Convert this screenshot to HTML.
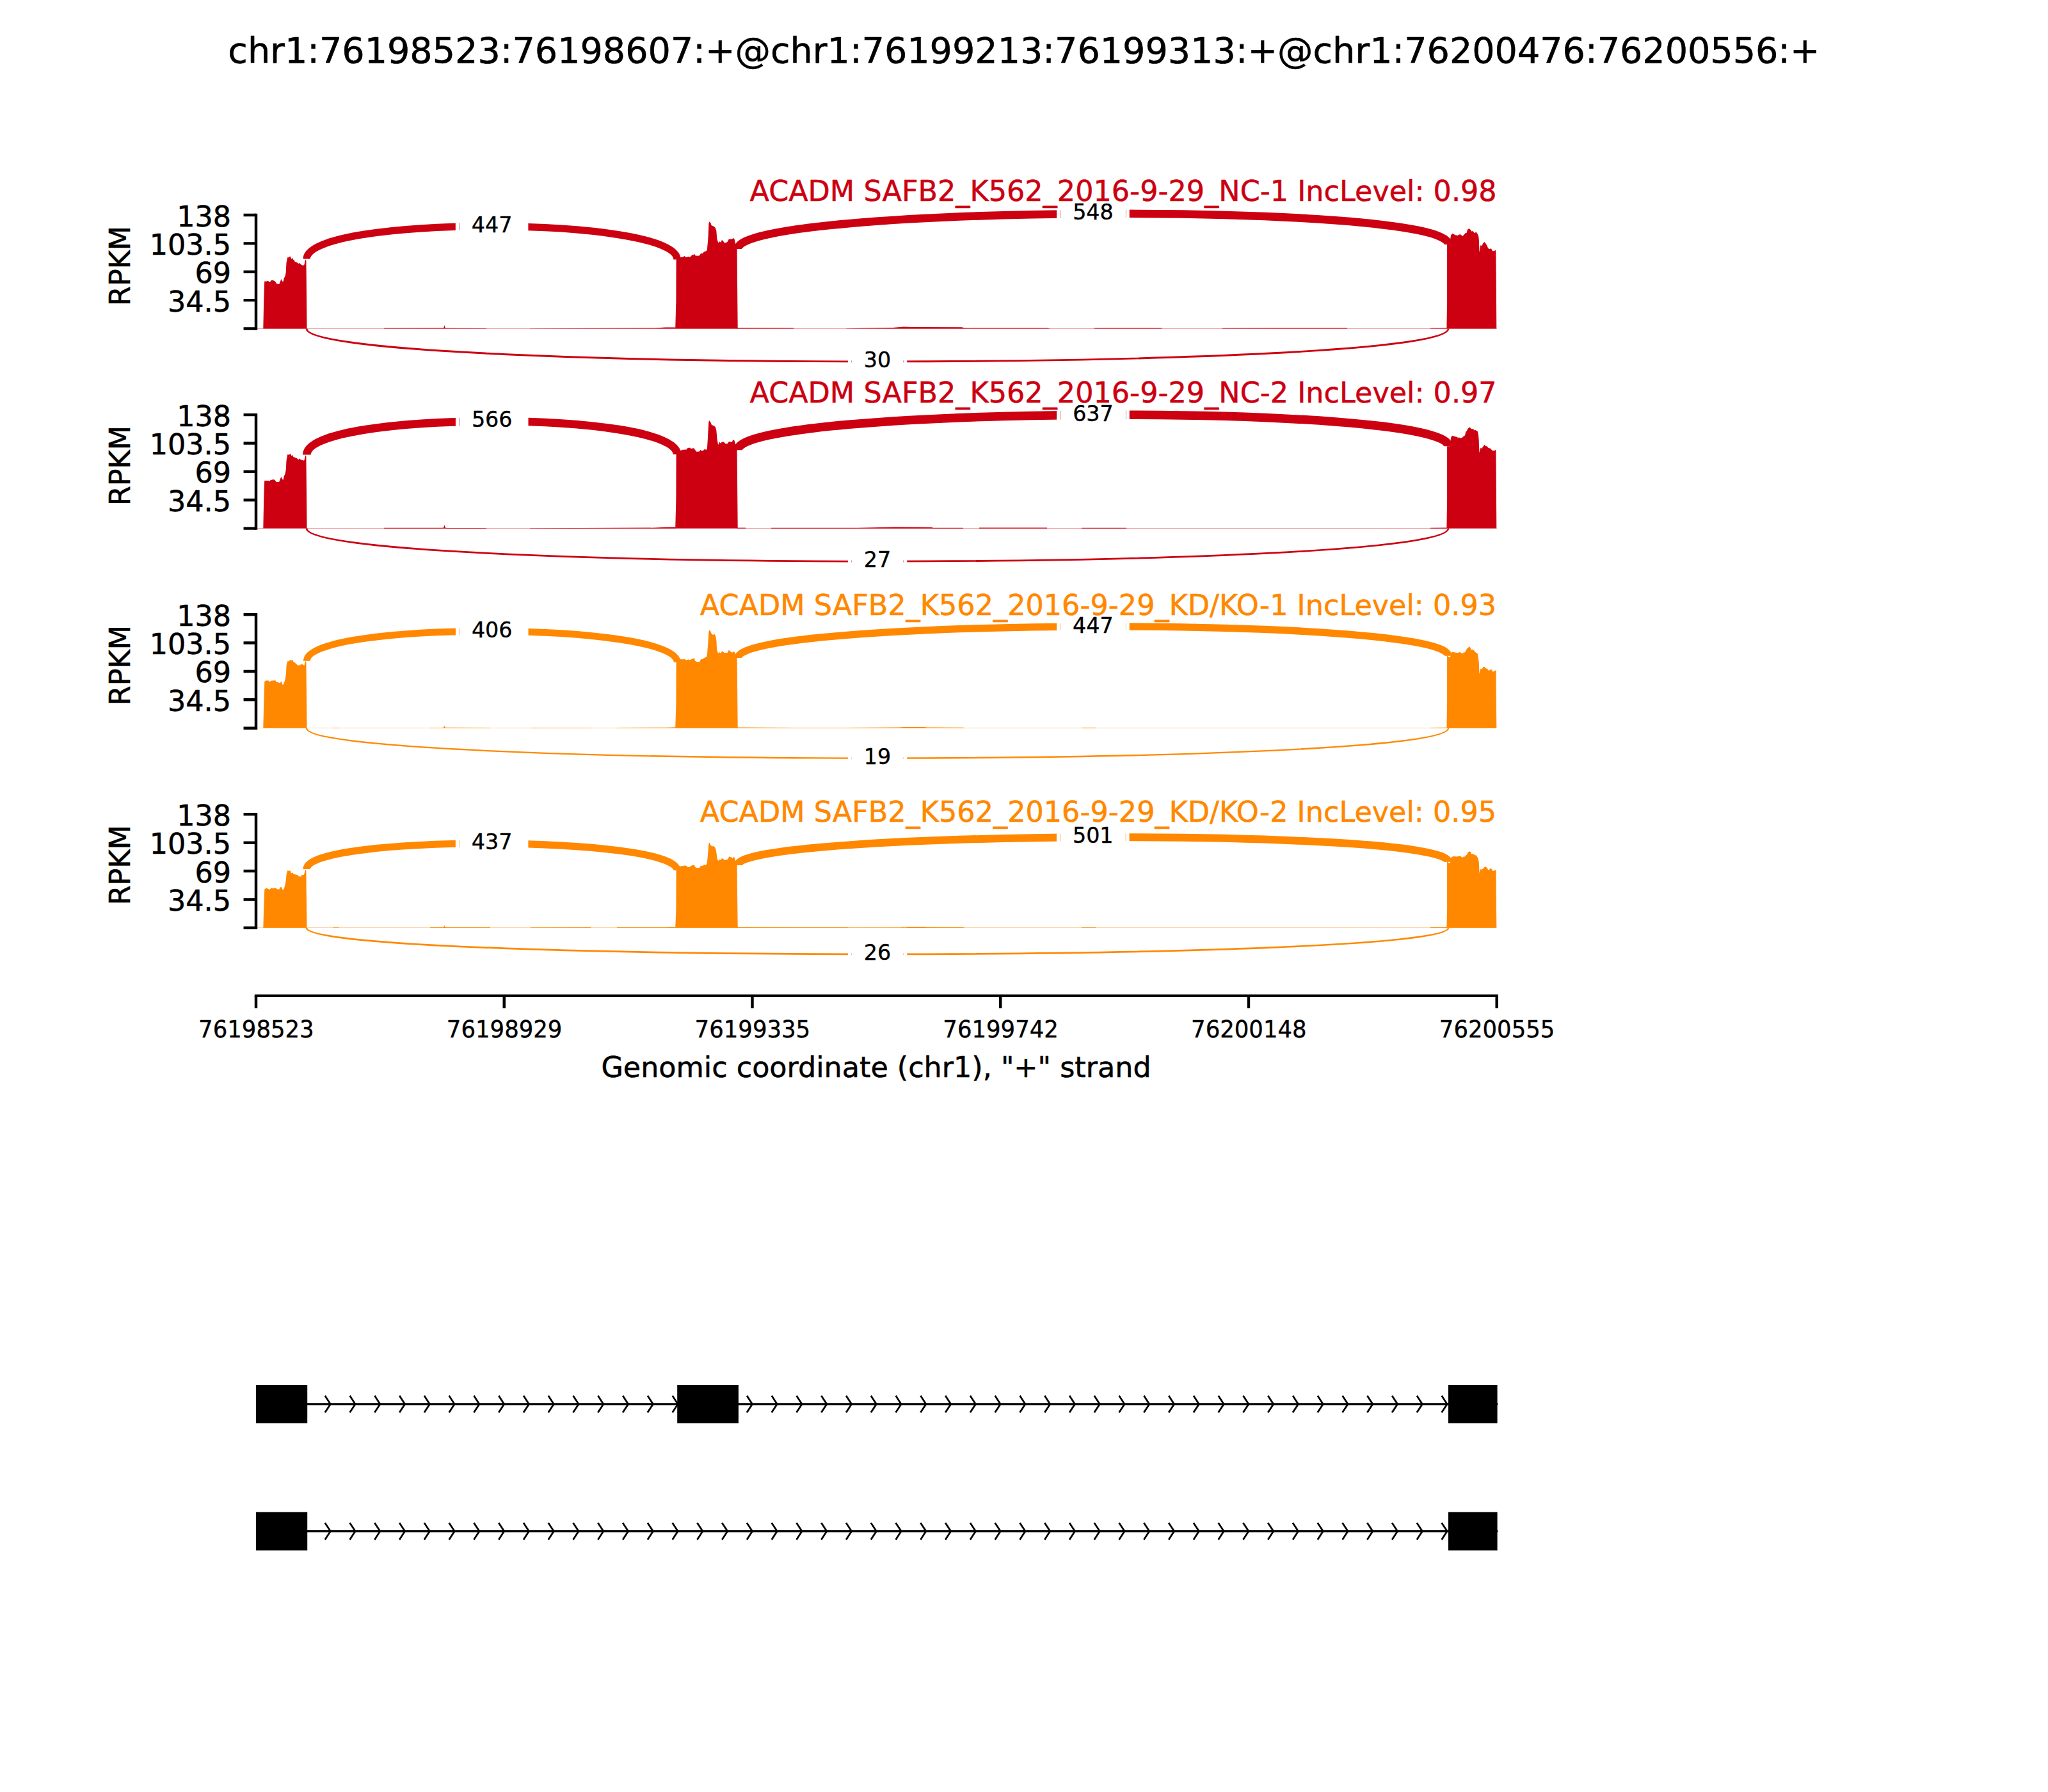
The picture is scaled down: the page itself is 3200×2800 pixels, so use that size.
<!DOCTYPE html>
<html lang="en"><head><meta charset="utf-8"><title>Sashimi plot chr1:76198523-76200556</title>
<style>html,body{margin:0;padding:0;background:#fff}svg{display:block}text{font-family:"DejaVu Sans","Liberation Sans",sans-serif;stroke:#000;stroke-width:0.55px;stroke-linejoin:round}text.s{stroke-width:0.4px}</style></head><body>
<svg width="3200" height="2800" viewBox="0 0 3200 2800">
<rect width="3200" height="2800" fill="#fff"/>
<text x="1600" y="98.4" font-size="55.56" text-anchor="middle">chr1:76198523:76198607:+@chr1:76199213:76199313:+@chr1:76200476:76200556:+</text>
<g>
<rect x="402" y="512.95" width="1936.7" height="0.7" fill="#CC0011" opacity="0.55"/>
<path d="M600,513.6 L600,512.7 690,512.6 693.2,512.5 694.4,507.9 695.6,512.5 699,512.8 760,512.9 760,513.6 Z" fill="#CC0011"/>
<path d="M828,513.6 L828,513.2 1024,512.5 1040,511.6 1055.5,511.5 1055.5,513.6 Z" fill="#CC0011"/>
<path d="M1152,513.6 L1152,512.3 1240,512.5 1240,513.6 Z" fill="#CC0011"/>
<path d="M1322,513.6 L1322,513.2 1345,512.7 1395,512 1412,510.5 1425,510.9 1503,511.3 1507,512.6 1636,512.6 1640,513.2 1640,513.6 Z" fill="#CC0011"/>
<path d="M1710,513.6 L1710,512.6 1815,512.6 1815,513.6 Z" fill="#CC0011"/>
<path d="M1910,513.6 L1910,512.7 1990,512.4 2105,512.5 2105,513.6 Z" fill="#CC0011"/>
<path d="M2235,513.6 L2235,512.7 2261,512.4 2261,513.6 Z" fill="#CC0011"/>
<path d="M411.3,513.5 L412.2,470 413.2,439.4 415.9,439.7 418.7,438.7 421.6,440.9 423.8,438.1 426.7,437.9 429.8,439.4 432.4,443.5 436.2,444.1 437.5,440.9 439.4,435.9 441.3,439.7 442.7,439.7 443.8,434.6 445.4,432.1 446.7,425.7 447.5,410.5 449.2,402.2 451.4,402.2 453.4,400.3 455.2,404.4 457.4,403.2 458.4,406.3 459.5,405.4 460.3,408.6 464.1,410.2 466.7,412.1 468.2,411.1 470.5,413.6 473.6,414.9 475.5,413.6 476.5,408.6 477.4,405.4 478.4,407.3 478.7,430 479.5,513.5 Z" fill="#CC0011"/>
<path d="M1055.2,513.5 L1056.4,470 1056.6,405.5 1060,404 1063.2,402 1066.7,401.7 1069.5,400.1 1071.7,402 1075.5,401.1 1078.1,401.7 1081.6,398.2 1083.8,398.2 1084.9,396.6 1086.3,399.2 1089.2,399.8 1092.7,399.5 1095.4,395.4 1097.1,396.6 1100.3,393.2 1102.5,392.8 1104.7,390.9 1105.7,380.8 1106.7,368.1 1107.4,349 1108.4,346.2 1110.5,348.4 1111.7,352.2 1114.6,353.2 1117.8,356 1119.3,360.5 1120.3,373.2 1122.2,379.2 1124.7,377.3 1126.3,378.9 1127.9,375.1 1129.5,376 1132,379.5 1134.6,379.2 1137.1,377.3 1138.7,373.8 1144.1,373.5 1145.4,371.8 1147.6,373.8 1148.9,379.5 1149.2,380.8 1151.6,388.9 1151.9,430 1152.7,513.5 Z" fill="#CC0011"/>
<path d="M2260.4,513.5 L2261.1,470 2261.1,381.9 2265.9,381.9 2266.2,373 2267.1,367.3 2269.7,364.8 2273.8,367.2 2277.3,367.9 2281.4,365.9 2285.5,369.1 2287.4,366.7 2289.4,364.4 2291.6,363.8 2293.2,358.4 2295.4,357 2297.3,358.4 2299.2,361.6 2301.4,360.9 2304.3,364.4 2306.2,362.3 2308.7,365.4 2310.3,369.8 2310.9,375.5 2311.4,394.6 2313.2,383.2 2315.4,384.1 2317.3,380.3 2319.4,378.1 2321.4,380.6 2323.3,383.2 2325.2,387.9 2327.4,388.9 2330,388.2 2332.2,392.4 2335.7,391.7 2337.3,390.5 2337.7,430 2338.3,513.5 Z" fill="#CC0011"/>
<path d="M479.1,404.6 C479.1,336.07 1058.1,336.97 1058.1,405.5" fill="none" stroke="#CC0011" stroke-width="11.31"/>
<path d="M1152.8,388.9 C1152.8,320.37 2263.1,313.37 2263.1,381.9" fill="none" stroke="#CC0011" stroke-width="12.52"/>
<path d="M479,513.5 C479,582.03 2263.1,582.03 2263.1,513.5" fill="none" stroke="#CC0011" stroke-width="2.93"/>
<rect x="711.81" y="312.55" width="5.32" height="82.3" fill="#fff"/><rect x="717.59" y="312.55" width="107.8" height="82.3" fill="#fff"/>
<rect x="1651.16" y="292.9" width="5.33" height="82.3" fill="#fff"/><rect x="1656.94" y="292.9" width="102.02" height="82.3" fill="#fff"/><rect x="1759.41" y="292.9" width="5.33" height="82.3" fill="#fff"/>
<rect x="1324.87" y="523.8" width="5.33" height="82.3" fill="#fff"/><rect x="1330.64" y="523.8" width="80.82" height="82.3" fill="#fff"/><rect x="1411.91" y="523.8" width="5.33" height="82.3" fill="#fff"/>
<text x="768.6" y="362.85" font-size="33.33" class="s" text-anchor="middle">447</text>
<text x="1707.95" y="343.2" font-size="33.33" class="s" text-anchor="middle">548</text>
<text x="1371.05" y="574.1" font-size="33.33" class="s" text-anchor="middle">30</text>
<path d="M380.56,336 H400 M380.56,380.38 H400 M380.56,424.75 H400 M380.56,469.12 H400 M380.56,513.5 H400" stroke="#000" stroke-width="4.44" fill="none"/>
<path d="M400,336 V513.5" stroke="#000" stroke-width="4.44" stroke-linecap="square" fill="none"/>
<text x="361" y="353.5" font-size="44.44" text-anchor="end">138</text>
<text x="361" y="397.88" font-size="44.44" text-anchor="end">103.5</text>
<text x="361" y="442.25" font-size="44.44" text-anchor="end">69</text>
<text x="361" y="486.62" font-size="44.44" text-anchor="end">34.5</text>
<text transform="translate(203,415.4) rotate(-90)" font-size="44.44" text-anchor="middle">RPKM</text>
<text x="2338.7" y="314.4" font-size="44.44" letter-spacing="0.03" text-anchor="end" fill="#CC0011" style="stroke:#CC0011">ACADM SAFB2_K562_2016-9-29_NC-1 IncLevel: 0.98</text>
</g>
<g>
<rect x="402" y="825.05" width="1936.7" height="0.7" fill="#CC0011" opacity="0.55"/>
<path d="M600,825.7 L600,824.8 690,824.7 693.2,824.6 694.4,820 695.6,824.6 699,824.9 760,825 760,825.7 Z" fill="#CC0011"/>
<path d="M828,825.7 L828,825.3 1024,824.6 1040,823.7 1055.5,823.6 1055.5,825.7 Z" fill="#CC0011"/>
<path d="M1152,825.7 L1152,824.6 1165,824.6 1165,825.7 Z" fill="#CC0011"/>
<path d="M1205,825.7 L1205,824.8 1340,824.7 1400,823.6 1440,823.7 1456,824.1 1458,824.7 1505,824.7 1505,825.7 Z" fill="#CC0011"/>
<path d="M1530,825.7 L1530,824.6 1636,824.6 1636,825.7 Z" fill="#CC0011"/>
<path d="M1690,825.7 L1690,824.8 1760,824.8 1760,825.7 Z" fill="#CC0011"/>
<path d="M2235,825.7 L2235,824.8 2261,824.5 2261,825.7 Z" fill="#CC0011"/>
<path d="M411.3,825.6 L412.2,780 413.2,750.9 415.9,751.1 420.6,751.3 421.6,752.1 422.9,749.4 424.8,750 426.7,749 429.2,749.7 431.7,753 436.2,753 437.5,749 439.4,745.1 441.3,749 442.5,749.7 443.8,744 445.4,740.8 446.7,734.4 447.5,719.8 449.2,710.3 452,710.6 453.6,708.4 455.2,711.9 457.4,711.3 458.4,714 461.3,715.1 463.5,715.7 466.3,718.2 468.4,716.2 470.5,719.3 471.4,718.2 473.9,719.8 475.5,718.9 476.5,714.8 477.4,711.3 478.4,713.2 478.7,740 479.5,825.6 Z" fill="#CC0011"/>
<path d="M1055.2,825.6 L1056.4,780 1056.6,710.1 1060,707 1063.2,704 1066.7,702.8 1072.4,702.5 1074.6,700 1078.1,699.4 1079.4,700.9 1084.4,700.3 1085.7,702.5 1088.2,705.7 1092.7,705.4 1094.5,702.8 1096.2,704.6 1099,704.1 1100.6,701.9 1103.8,702.8 1104.9,700.9 1105.7,688.2 1107.3,659 1108.4,657.3 1110.5,660 1112,664.1 1114.9,665.1 1117.8,667.3 1119.3,672.4 1120.6,687 1122.2,694.9 1124.4,690.5 1126,692.7 1127.9,690.5 1130.8,690.5 1133.9,693.6 1137.1,693 1138.7,690.1 1143.8,690.8 1145.4,687.1 1147.3,687.9 1148.9,692.7 1149.2,694.6 1151.6,703.2 1151.9,740 1152.7,825.6 Z" fill="#CC0011"/>
<path d="M2260.4,825.6 L2261.1,780 2261.1,697.3 2266.2,697.3 2266.5,688.1 2267.5,682.4 2269.4,680.8 2273.2,682.1 2277,683 2278.6,684.8 2279.5,683 2281.7,684.8 2285.5,683.3 2287.4,681 2289,680.5 2290.3,674.4 2291.9,673.5 2293.5,669.7 2296.6,667.6 2298.9,670.2 2301.4,670 2303.9,672.5 2305.5,671.9 2308.7,674.1 2309.9,678.6 2310.7,688.1 2311.4,707.8 2313.2,700.1 2315.1,700.8 2317.6,697.6 2319.5,694.7 2321.4,697 2323.3,697.3 2325.8,700.1 2328.4,700.5 2332.2,704.3 2335.4,704 2337.4,702.4 2337.7,740 2338.3,825.6 Z" fill="#CC0011"/>
<path d="M479.3,710.4 C479.3,641.07 1058.1,640.77 1058.1,710.1" fill="none" stroke="#CC0011" stroke-width="12.73"/>
<path d="M1152.8,703.2 C1152.8,633.87 2263.1,627.97 2263.1,697.3" fill="none" stroke="#CC0011" stroke-width="13.5"/>
<path d="M479,825.6 C479,894.27 2263.1,894.27 2263.1,825.6" fill="none" stroke="#CC0011" stroke-width="2.78"/>
<rect x="711.91" y="617.15" width="5.32" height="82.3" fill="#fff"/><rect x="717.69" y="617.15" width="107.8" height="82.3" fill="#fff"/>
<rect x="1651.16" y="608.1" width="5.33" height="82.3" fill="#fff"/><rect x="1656.94" y="608.1" width="102.02" height="82.3" fill="#fff"/><rect x="1759.41" y="608.1" width="5.33" height="82.3" fill="#fff"/>
<rect x="1324.87" y="836" width="5.33" height="82.3" fill="#fff"/><rect x="1330.64" y="836" width="80.82" height="82.3" fill="#fff"/><rect x="1411.91" y="836" width="5.33" height="82.3" fill="#fff"/>
<text x="768.7" y="667.45" font-size="33.33" class="s" text-anchor="middle">566</text>
<text x="1707.95" y="658.4" font-size="33.33" class="s" text-anchor="middle">637</text>
<text x="1371.05" y="886.3" font-size="33.33" class="s" text-anchor="middle">27</text>
<path d="M380.56,648.1 H400 M380.56,692.48 H400 M380.56,736.85 H400 M380.56,781.23 H400 M380.56,825.6 H400" stroke="#000" stroke-width="4.44" fill="none"/>
<path d="M400,648.1 V825.6" stroke="#000" stroke-width="4.44" stroke-linecap="square" fill="none"/>
<text x="361" y="665.6" font-size="44.44" text-anchor="end">138</text>
<text x="361" y="709.98" font-size="44.44" text-anchor="end">103.5</text>
<text x="361" y="754.35" font-size="44.44" text-anchor="end">69</text>
<text x="361" y="798.73" font-size="44.44" text-anchor="end">34.5</text>
<text transform="translate(203,727.5) rotate(-90)" font-size="44.44" text-anchor="middle">RPKM</text>
<text x="2338.7" y="629.2" font-size="44.44" letter-spacing="0.03" text-anchor="end" fill="#CC0011" style="stroke:#CC0011">ACADM SAFB2_K562_2016-9-29_NC-2 IncLevel: 0.97</text>
</g>
<g>
<rect x="402" y="1137.15" width="1936.7" height="0.7" fill="#FF8800" opacity="0.55"/>
<path d="M520,1137.8 L520,1137.1 530,1137.1 530,1137.8 Z" fill="#FF8800"/>
<path d="M672,1137.8 L672,1137 690,1136.9 693.2,1136.8 694.4,1133.7 695.6,1136.8 766,1137 766,1137.8 Z" fill="#FF8800"/>
<path d="M829,1137.8 L829,1137.1 923,1137 923,1137.8 Z" fill="#FF8800"/>
<path d="M964,1137.8 L964,1137 1040,1136.8 1050,1136.4 1055.5,1136.3 1055.5,1137.8 Z" fill="#FF8800"/>
<path d="M1152,1137.8 L1152,1136.5 1240,1136.9 1322,1136.9 1405,1136.6 1412,1135.9 1445,1135.9 1448,1136.5 1505,1136.7 1507,1137.3 1507,1137.8 Z" fill="#FF8800"/>
<path d="M1690,1137.8 L1690,1136.9 1712,1136.9 1712,1137.8 Z" fill="#FF8800"/>
<path d="M2235,1137.8 L2235,1137 2261,1136.7 2261,1137.8 Z" fill="#FF8800"/>
<path d="M411.3,1137.7 L412.2,1100 413.3,1064.7 416.5,1063.2 419.7,1063.5 421.3,1065.4 423.5,1063.7 427.9,1063.2 430.5,1063.2 431.7,1065.4 434.3,1066 436.8,1067.3 438.1,1066.6 439.4,1064.2 441.3,1069.8 442.7,1069.8 444.4,1065.4 446,1059.7 447,1050.8 447.6,1039.4 449.2,1033.3 450.8,1033.3 453.6,1031.1 455.9,1032.1 457.4,1031.1 458.4,1034.3 459.7,1034.6 463.5,1038.1 466.3,1040 468.9,1038.7 470.5,1038.4 471.4,1037.1 473,1038.4 475.5,1039.7 476.5,1035.5 477.4,1033 478.4,1034.6 478.7,1060 479.5,1137.7 Z" fill="#FF8800"/>
<path d="M1055.2,1137.7 L1056.4,1100 1056.6,1034.7 1060,1032 1062.2,1030 1066.7,1030.3 1069.8,1030 1072.4,1031.4 1076.2,1030.3 1077.8,1031.4 1081.9,1029.3 1083.8,1029 1084.9,1027.9 1086,1032.8 1088.9,1034.1 1092.7,1034.6 1095.4,1029.7 1097.1,1030.3 1100.3,1028.1 1104.1,1026.5 1105.1,1020.8 1106.3,1005.5 1107.4,987.8 1108.4,984.6 1110.5,986.8 1111.7,990 1114,991.9 1116.5,990.8 1118.4,994.8 1119.5,1001.7 1120.1,1015.7 1122.2,1020.8 1124.4,1018.9 1126.3,1020.8 1128.2,1017.3 1132,1020.1 1136.5,1020.1 1138.7,1015.8 1140.9,1017.6 1144.1,1019.8 1145.7,1018.2 1147.6,1018.4 1148.9,1021.5 1151.6,1028.1 1151.9,1060 1152.7,1137.7 Z" fill="#FF8800"/>
<path d="M2260.4,1137.7 L2261.1,1100 2261.1,1024.8 2262.5,1024.8 2263.5,1027 2266,1027 2267.5,1020 2269.4,1018.6 2274.4,1019.7 2278.2,1020 2280.5,1019 2284,1020.3 2285.7,1021.6 2287.4,1018.6 2288.7,1019.7 2290.3,1016.8 2292.5,1013 2296.5,1010.3 2299.2,1015.5 2301.1,1014.8 2303.6,1016.8 2305.2,1019 2308.7,1021.3 2310.1,1030.1 2310.9,1037.1 2311.4,1053.6 2313.2,1044.7 2315.4,1045.4 2317.6,1042.2 2319.5,1041.4 2320.8,1044.1 2323.6,1044.7 2326.5,1048.2 2328.7,1046.1 2330.6,1046.3 2332.5,1049.8 2335.4,1048.2 2337.6,1047 2337.7,1080 2338.3,1137.7 Z" fill="#FF8800"/>
<path d="M479.25,1032.7 C479.25,969.5 1058.2,971.5 1058.2,1034.7" fill="none" stroke="#FF8800" stroke-width="10.78"/>
<path d="M1152.95,1028.1 C1152.95,964.9 2262.9,961.6 2262.9,1024.8" fill="none" stroke="#FF8800" stroke-width="11.31"/>
<path d="M479,1137.7 C479,1200.23 2263.1,1200.23 2263.1,1137.7" fill="none" stroke="#FF8800" stroke-width="2.33"/>
<rect x="711.94" y="945.2" width="5.32" height="82.3" fill="#fff"/><rect x="717.71" y="945.2" width="107.8" height="82.3" fill="#fff"/>
<rect x="1651.14" y="939.15" width="5.33" height="82.3" fill="#fff"/><rect x="1656.91" y="939.15" width="102.02" height="82.3" fill="#fff"/><rect x="1759.39" y="939.15" width="5.33" height="82.3" fill="#fff"/>
<rect x="1324.87" y="1144" width="5.33" height="82.3" fill="#fff"/><rect x="1330.64" y="1144" width="80.82" height="82.3" fill="#fff"/><rect x="1411.91" y="1144" width="5.33" height="82.3" fill="#fff"/>
<text x="768.73" y="995.5" font-size="33.33" class="s" text-anchor="middle">406</text>
<text x="1707.93" y="989.45" font-size="33.33" class="s" text-anchor="middle">447</text>
<text x="1371.05" y="1194.3" font-size="33.33" class="s" text-anchor="middle">19</text>
<path d="M380.56,960.2 H400 M380.56,1004.58 H400 M380.56,1048.95 H400 M380.56,1093.33 H400 M380.56,1137.7 H400" stroke="#000" stroke-width="4.44" fill="none"/>
<path d="M400,960.2 V1137.7" stroke="#000" stroke-width="4.44" stroke-linecap="square" fill="none"/>
<text x="361" y="977.7" font-size="44.44" text-anchor="end">138</text>
<text x="361" y="1022.08" font-size="44.44" text-anchor="end">103.5</text>
<text x="361" y="1066.45" font-size="44.44" text-anchor="end">69</text>
<text x="361" y="1110.83" font-size="44.44" text-anchor="end">34.5</text>
<text transform="translate(203,1039.6) rotate(-90)" font-size="44.44" text-anchor="middle">RPKM</text>
<text x="2338.1" y="961.3" font-size="44.44" letter-spacing="0.03" text-anchor="end" fill="#FF8800" style="stroke:#FF8800">ACADM SAFB2_K562_2016-9-29_KD/KO-1 IncLevel: 0.93</text>
</g>
<g>
<rect x="402" y="1449.25" width="1936.7" height="0.7" fill="#FF8800" opacity="0.55"/>
<path d="M520,1449.9 L520,1449.2 530,1449.2 530,1449.9 Z" fill="#FF8800"/>
<path d="M672,1449.9 L672,1449.1 690,1449 693.2,1448.9 694.4,1445.8 695.6,1448.9 766,1449.1 766,1449.9 Z" fill="#FF8800"/>
<path d="M829,1449.9 L829,1449.2 923,1449.1 923,1449.9 Z" fill="#FF8800"/>
<path d="M964,1449.9 L964,1449.1 1040,1448.9 1050,1448.5 1055.5,1448.4 1055.5,1449.9 Z" fill="#FF8800"/>
<path d="M1152,1449.9 L1152,1448.8 1240,1449.1 1322,1449.1 1405,1448.8 1412,1448.3 1445,1448.3 1448,1448.8 1505,1448.9 1507,1449.4 1507,1449.9 Z" fill="#FF8800"/>
<path d="M1690,1449.9 L1690,1449.1 1712,1449.1 1712,1449.9 Z" fill="#FF8800"/>
<path d="M2235,1449.9 L2235,1449.1 2261,1448.8 2261,1449.9 Z" fill="#FF8800"/>
<path d="M411.3,1449.8 L412.2,1420 413.3,1389.5 416.5,1387.6 419,1388.9 421.3,1390.1 423.8,1387.4 427.3,1388.2 430.5,1387.3 433,1389.5 436.5,1389.5 437.5,1386.6 439.7,1386 441.3,1389.8 442.5,1390.8 444.4,1386.6 446,1380.3 447,1374 447.6,1365.7 449.4,1360.1 451.4,1360.9 453.4,1359.9 455.2,1364.4 457.4,1363.3 458.4,1365.8 464.7,1367 467,1369.8 468.6,1369 470.5,1370 471.4,1367.1 474.9,1367 476.5,1361.3 477.4,1358.8 478.4,1361.3 478.7,1390 479.5,1449.8 Z" fill="#FF8800"/>
<path d="M1055.2,1449.8 L1056.4,1420 1056.6,1360.1 1060,1357 1062.2,1354.1 1064.1,1353.2 1067.9,1353.2 1069.5,1352.2 1073,1353.2 1074.6,1354.7 1077.5,1354.4 1081.6,1351.9 1084.8,1351.3 1086,1354.7 1089.2,1356.3 1092.7,1355.9 1095.4,1352.1 1096.8,1353.5 1100.6,1351.1 1102.8,1351.9 1104.7,1349 1105.7,1339.5 1107.3,1318.6 1108.4,1316.2 1109.8,1319.8 1112.4,1322.4 1114.9,1322.1 1117.1,1324 1118.7,1328.1 1119.7,1334.4 1120.3,1340.8 1122.2,1344.9 1124.7,1342.7 1126.3,1344 1128.2,1340.7 1132.4,1344 1137.1,1342.7 1139.3,1338.2 1143.5,1340.1 1144.4,1341.4 1145.7,1339 1147.6,1340.1 1149.2,1345.2 1151.6,1351.9 1151.9,1390 1152.7,1449.8 Z" fill="#FF8800"/>
<path d="M2260.4,1449.8 L2261.1,1420 2261.1,1346.8 2262.5,1346.8 2263.5,1348.5 2266,1348.2 2267.1,1340 2270.6,1338 2277,1338.4 2280.5,1337.3 2284,1339 2285.5,1340.1 2287.4,1338.1 2288.7,1338.7 2290.3,1336.2 2291.9,1335.9 2293.8,1331.4 2296.5,1330.2 2298.2,1331.7 2299.2,1334.6 2302.4,1334.2 2304.3,1336.3 2306.2,1336.2 2308.7,1339.4 2310.3,1344.4 2311.1,1350.8 2311.4,1364.1 2313.2,1358.1 2315.4,1358.7 2317.9,1356.5 2320.5,1354.1 2323.3,1355.7 2325.2,1359 2326.8,1359.4 2328.1,1356.8 2330.6,1357.4 2332.5,1360.9 2335.4,1360 2337.6,1359 2337.7,1390 2338.3,1449.8 Z" fill="#FF8800"/>
<path d="M479,1358 C479,1303.33 1058.2,1305.43 1058.2,1360.1" fill="none" stroke="#FF8800" stroke-width="11.18"/>
<path d="M1152.6,1351.9 C1152.6,1297.23 2262.9,1292.13 2262.9,1346.8" fill="none" stroke="#FF8800" stroke-width="11.97"/>
<path d="M479,1449.8 C479,1504.47 2263.1,1504.47 2263.1,1449.8" fill="none" stroke="#FF8800" stroke-width="2.73"/>
<rect x="711.81" y="1276.95" width="5.32" height="82.3" fill="#fff"/><rect x="717.59" y="1276.95" width="107.8" height="82.3" fill="#fff"/>
<rect x="1650.96" y="1266.85" width="5.33" height="82.3" fill="#fff"/><rect x="1656.74" y="1266.85" width="102.02" height="82.3" fill="#fff"/><rect x="1759.21" y="1266.85" width="5.33" height="82.3" fill="#fff"/>
<rect x="1324.87" y="1449.7" width="5.33" height="82.3" fill="#fff"/><rect x="1330.64" y="1449.7" width="80.82" height="82.3" fill="#fff"/><rect x="1411.91" y="1449.7" width="5.33" height="82.3" fill="#fff"/>
<text x="768.6" y="1327.25" font-size="33.33" class="s" text-anchor="middle">437</text>
<text x="1707.75" y="1317.15" font-size="33.33" class="s" text-anchor="middle">501</text>
<text x="1371.05" y="1500" font-size="33.33" class="s" text-anchor="middle">26</text>
<path d="M380.56,1272.3 H400 M380.56,1316.67 H400 M380.56,1361.05 H400 M380.56,1405.42 H400 M380.56,1449.8 H400" stroke="#000" stroke-width="4.44" fill="none"/>
<path d="M400,1272.3 V1449.8" stroke="#000" stroke-width="4.44" stroke-linecap="square" fill="none"/>
<text x="361" y="1289.8" font-size="44.44" text-anchor="end">138</text>
<text x="361" y="1334.17" font-size="44.44" text-anchor="end">103.5</text>
<text x="361" y="1378.55" font-size="44.44" text-anchor="end">69</text>
<text x="361" y="1422.92" font-size="44.44" text-anchor="end">34.5</text>
<text transform="translate(203,1351.7) rotate(-90)" font-size="44.44" text-anchor="middle">RPKM</text>
<text x="2338.1" y="1284.4" font-size="44.44" letter-spacing="0.03" text-anchor="end" fill="#FF8800" style="stroke:#FF8800">ACADM SAFB2_K562_2016-9-29_KD/KO-2 IncLevel: 0.95</text>
</g>
<g>
<path d="M400,1555.9 H2338.7" stroke="#000" stroke-width="4.44" stroke-linecap="square" fill="none"/>
<path d="M400,1555.9 V1575.34 M787.74,1555.9 V1575.34 M1175.48,1555.9 V1575.34 M1563.22,1555.9 V1575.34 M1950.96,1555.9 V1575.34 M2338.7,1555.9 V1575.34" stroke="#000" stroke-width="4.44" fill="none"/>
<text transform="translate(400.4,1620.7) scale(1,1.03)" font-size="35.5" class="s" text-anchor="middle">76198523</text>
<text transform="translate(788.14,1620.7) scale(1,1.03)" font-size="35.5" class="s" text-anchor="middle">76198929</text>
<text transform="translate(1175.88,1620.7) scale(1,1.03)" font-size="35.5" class="s" text-anchor="middle">76199335</text>
<text transform="translate(1563.62,1620.7) scale(1,1.03)" font-size="35.5" class="s" text-anchor="middle">76199742</text>
<text transform="translate(1951.36,1620.7) scale(1,1.03)" font-size="35.5" class="s" text-anchor="middle">76200148</text>
<text transform="translate(2339.1,1620.7) scale(1,1.03)" font-size="35.5" class="s" text-anchor="middle">76200555</text>
<text x="1369" y="1683" font-size="44.44" text-anchor="middle">Genomic coordinate (chr1), "+" strand</text>
</g>
<g>
<clipPath id="gm"><rect x="400" y="1890" width="1940.2" height="610"/></clipPath>
<path d="M400,2193.9 H2340.3" stroke="#000" stroke-width="3.4" fill="none"/>
<path clip-path="url(#gm)" d="M392.25,2181.94 L400,2193.9 392.25,2205.86 M431.02,2181.94 L438.77,2193.9 431.02,2205.86 M469.8,2181.94 L477.55,2193.9 469.8,2205.86 M508.57,2181.94 L516.32,2193.9 508.57,2205.86 M547.35,2181.94 L555.1,2193.9 547.35,2205.86 M586.12,2181.94 L593.87,2193.9 586.12,2205.86 M624.89,2181.94 L632.64,2193.9 624.89,2205.86 M663.67,2181.94 L671.42,2193.9 663.67,2205.86 M702.44,2181.94 L710.19,2193.9 702.44,2205.86 M741.22,2181.94 L748.97,2193.9 741.22,2205.86 M779.99,2181.94 L787.74,2193.9 779.99,2205.86 M818.76,2181.94 L826.51,2193.9 818.76,2205.86 M857.54,2181.94 L865.29,2193.9 857.54,2205.86 M896.31,2181.94 L904.06,2193.9 896.31,2205.86 M935.09,2181.94 L942.84,2193.9 935.09,2205.86 M973.86,2181.94 L981.61,2193.9 973.86,2205.86 M1012.63,2181.94 L1020.38,2193.9 1012.63,2205.86 M1051.41,2181.94 L1059.16,2193.9 1051.41,2205.86 M1090.18,2181.94 L1097.93,2193.9 1090.18,2205.86 M1128.96,2181.94 L1136.71,2193.9 1128.96,2205.86 M1167.73,2181.94 L1175.48,2193.9 1167.73,2205.86 M1206.5,2181.94 L1214.25,2193.9 1206.5,2205.86 M1245.28,2181.94 L1253.03,2193.9 1245.28,2205.86 M1284.05,2181.94 L1291.8,2193.9 1284.05,2205.86 M1322.83,2181.94 L1330.58,2193.9 1322.83,2205.86 M1361.6,2181.94 L1369.35,2193.9 1361.6,2205.86 M1400.37,2181.94 L1408.12,2193.9 1400.37,2205.86 M1439.15,2181.94 L1446.9,2193.9 1439.15,2205.86 M1477.92,2181.94 L1485.67,2193.9 1477.92,2205.86 M1516.7,2181.94 L1524.45,2193.9 1516.7,2205.86 M1555.47,2181.94 L1563.22,2193.9 1555.47,2205.86 M1594.24,2181.94 L1601.99,2193.9 1594.24,2205.86 M1633.02,2181.94 L1640.77,2193.9 1633.02,2205.86 M1671.79,2181.94 L1679.54,2193.9 1671.79,2205.86 M1710.57,2181.94 L1718.32,2193.9 1710.57,2205.86 M1749.34,2181.94 L1757.09,2193.9 1749.34,2205.86 M1788.11,2181.94 L1795.86,2193.9 1788.11,2205.86 M1826.89,2181.94 L1834.64,2193.9 1826.89,2205.86 M1865.66,2181.94 L1873.41,2193.9 1865.66,2205.86 M1904.44,2181.94 L1912.19,2193.9 1904.44,2205.86 M1943.21,2181.94 L1950.96,2193.9 1943.21,2205.86 M1981.98,2181.94 L1989.73,2193.9 1981.98,2205.86 M2020.76,2181.94 L2028.51,2193.9 2020.76,2205.86 M2059.53,2181.94 L2067.28,2193.9 2059.53,2205.86 M2098.31,2181.94 L2106.06,2193.9 2098.31,2205.86 M2137.08,2181.94 L2144.83,2193.9 2137.08,2205.86 M2175.85,2181.94 L2183.6,2193.9 2175.85,2205.86 M2214.63,2181.94 L2222.38,2193.9 2214.63,2205.86 M2253.4,2181.94 L2261.15,2193.9 2253.4,2205.86 M2292.18,2181.94 L2299.93,2193.9 2292.18,2205.86" stroke="#000" stroke-width="2.78" stroke-linecap="square" stroke-linejoin="round" fill="none"/>
<rect x="399.9" y="2164" width="80.3" height="59.8" fill="#000"/>
<rect x="1058.2" y="2164" width="95.7" height="59.8" fill="#000"/>
<rect x="2263" y="2164" width="76.6" height="59.8" fill="#000"/>
<path d="M400,2392.6 H2340.3" stroke="#000" stroke-width="3.4" fill="none"/>
<path clip-path="url(#gm)" d="M392.25,2380.64 L400,2392.6 392.25,2404.56 M431.02,2380.64 L438.77,2392.6 431.02,2404.56 M469.8,2380.64 L477.55,2392.6 469.8,2404.56 M508.57,2380.64 L516.32,2392.6 508.57,2404.56 M547.35,2380.64 L555.1,2392.6 547.35,2404.56 M586.12,2380.64 L593.87,2392.6 586.12,2404.56 M624.89,2380.64 L632.64,2392.6 624.89,2404.56 M663.67,2380.64 L671.42,2392.6 663.67,2404.56 M702.44,2380.64 L710.19,2392.6 702.44,2404.56 M741.22,2380.64 L748.97,2392.6 741.22,2404.56 M779.99,2380.64 L787.74,2392.6 779.99,2404.56 M818.76,2380.64 L826.51,2392.6 818.76,2404.56 M857.54,2380.64 L865.29,2392.6 857.54,2404.56 M896.31,2380.64 L904.06,2392.6 896.31,2404.56 M935.09,2380.64 L942.84,2392.6 935.09,2404.56 M973.86,2380.64 L981.61,2392.6 973.86,2404.56 M1012.63,2380.64 L1020.38,2392.6 1012.63,2404.56 M1051.41,2380.64 L1059.16,2392.6 1051.41,2404.56 M1090.18,2380.64 L1097.93,2392.6 1090.18,2404.56 M1128.96,2380.64 L1136.71,2392.6 1128.96,2404.56 M1167.73,2380.64 L1175.48,2392.6 1167.73,2404.56 M1206.5,2380.64 L1214.25,2392.6 1206.5,2404.56 M1245.28,2380.64 L1253.03,2392.6 1245.28,2404.56 M1284.05,2380.64 L1291.8,2392.6 1284.05,2404.56 M1322.83,2380.64 L1330.58,2392.6 1322.83,2404.56 M1361.6,2380.64 L1369.35,2392.6 1361.6,2404.56 M1400.37,2380.64 L1408.12,2392.6 1400.37,2404.56 M1439.15,2380.64 L1446.9,2392.6 1439.15,2404.56 M1477.92,2380.64 L1485.67,2392.6 1477.92,2404.56 M1516.7,2380.64 L1524.45,2392.6 1516.7,2404.56 M1555.47,2380.64 L1563.22,2392.6 1555.47,2404.56 M1594.24,2380.64 L1601.99,2392.6 1594.24,2404.56 M1633.02,2380.64 L1640.77,2392.6 1633.02,2404.56 M1671.79,2380.64 L1679.54,2392.6 1671.79,2404.56 M1710.57,2380.64 L1718.32,2392.6 1710.57,2404.56 M1749.34,2380.64 L1757.09,2392.6 1749.34,2404.56 M1788.11,2380.64 L1795.86,2392.6 1788.11,2404.56 M1826.89,2380.64 L1834.64,2392.6 1826.89,2404.56 M1865.66,2380.64 L1873.41,2392.6 1865.66,2404.56 M1904.44,2380.64 L1912.19,2392.6 1904.44,2404.56 M1943.21,2380.64 L1950.96,2392.6 1943.21,2404.56 M1981.98,2380.64 L1989.73,2392.6 1981.98,2404.56 M2020.76,2380.64 L2028.51,2392.6 2020.76,2404.56 M2059.53,2380.64 L2067.28,2392.6 2059.53,2404.56 M2098.31,2380.64 L2106.06,2392.6 2098.31,2404.56 M2137.08,2380.64 L2144.83,2392.6 2137.08,2404.56 M2175.85,2380.64 L2183.6,2392.6 2175.85,2404.56 M2214.63,2380.64 L2222.38,2392.6 2214.63,2404.56 M2253.4,2380.64 L2261.15,2392.6 2253.4,2404.56 M2292.18,2380.64 L2299.93,2392.6 2292.18,2404.56" stroke="#000" stroke-width="2.78" stroke-linecap="square" stroke-linejoin="round" fill="none"/>
<rect x="399.9" y="2362.7" width="80.3" height="59.8" fill="#000"/>
<rect x="2263" y="2362.7" width="76.6" height="59.8" fill="#000"/>
</g>
</svg></body></html>
